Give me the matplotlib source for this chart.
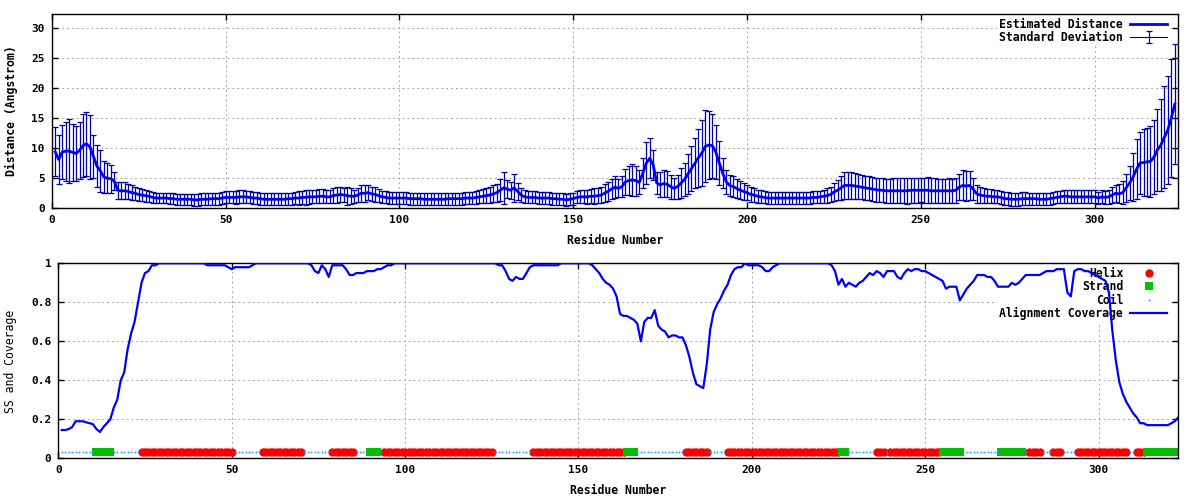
import numpy as np
import matplotlib
matplotlib.use("Agg")
import matplotlib.pyplot as plt
from matplotlib.ticker import MultipleLocator, FormatStrFormatter

# per-residue values (residues 1..323)
distance = [
    9.4, 8.1, 9.3, 9.5, 9.5, 9.3, 9.1, 9.6, 10.4, 10.7,
    10.2, 8.6, 7.0, 6.2, 5.2, 5.0, 4.9, 4.5, 3.0, 2.9,
    2.9, 2.8, 2.6, 2.5, 2.3, 2.2, 2.1, 2.0, 1.8, 1.7,
    1.7, 1.7, 1.7, 1.6, 1.6, 1.5, 1.5, 1.5, 1.5, 1.5,
    1.4, 1.4, 1.5, 1.5, 1.5, 1.6, 1.6, 1.6, 1.7, 1.8,
    1.8, 1.8, 1.8, 1.9, 1.9, 1.9, 1.8, 1.7, 1.7, 1.6,
    1.5, 1.5, 1.5, 1.5, 1.5, 1.5, 1.5, 1.6, 1.6, 1.7,
    1.7, 1.8, 1.8, 1.9, 1.9, 1.9, 2.0, 2.0, 1.9, 1.9,
    2.1, 2.2, 2.3, 2.2, 2.1, 2.0, 2.0, 2.2, 2.5, 2.5,
    2.6, 2.4, 2.3, 2.1, 1.9, 1.8, 1.7, 1.7, 1.7, 1.7,
    1.7, 1.7, 1.6, 1.6, 1.6, 1.6, 1.5, 1.5, 1.5, 1.5,
    1.5, 1.5, 1.5, 1.6, 1.6, 1.6, 1.6, 1.6, 1.7, 1.7,
    1.7, 1.8, 1.9, 2.0, 2.1, 2.2, 2.4, 2.6, 3.0, 3.4,
    3.2, 3.0, 3.4, 2.8, 2.2, 1.9, 1.8, 1.8, 1.8, 1.7,
    1.7, 1.7, 1.7, 1.6, 1.6, 1.5, 1.5, 1.4, 1.5, 1.6,
    1.8, 1.9, 1.9, 1.9, 2.0, 2.0, 2.1, 2.2, 2.5, 2.8,
    3.2, 3.5, 3.3, 3.6, 4.4, 4.6, 4.7, 4.6, 4.3, 5.8,
    7.5, 8.3, 7.2, 4.2, 3.9, 4.1, 4.0, 3.6, 3.3, 3.6,
    4.2, 4.8, 5.7, 6.6, 7.5, 8.4, 9.2, 10.3, 10.5, 10.4,
    9.3, 7.5, 5.8, 4.4, 3.8, 3.6, 3.3, 3.0, 2.8, 2.6,
    2.3, 2.2, 2.0, 1.9, 1.8, 1.7, 1.7, 1.7, 1.7, 1.7,
    1.7, 1.7, 1.7, 1.7, 1.7, 1.7, 1.7, 1.7, 1.8, 1.8,
    1.9, 2.0, 2.1, 2.3, 2.7, 3.0, 3.4, 3.8, 3.8, 3.8,
    3.7, 3.6, 3.5, 3.4, 3.3, 3.2, 3.1, 3.0, 3.0, 2.9,
    2.9, 2.9, 2.9, 2.9, 2.9, 2.9, 3.0, 3.0, 3.0, 3.0,
    3.0, 3.0, 2.9, 2.9, 2.9, 2.9, 2.9, 2.9, 2.9, 3.0,
    3.5, 3.8, 3.7, 3.8, 3.2, 2.4, 2.2, 2.1, 2.0, 2.0,
    1.9, 1.9, 1.8, 1.6, 1.6, 1.5, 1.5, 1.5, 1.6, 1.6,
    1.6, 1.6, 1.6, 1.5, 1.5, 1.5, 1.6, 1.7, 1.8, 1.9,
    2.0, 2.0, 1.9, 1.9, 1.9, 1.9, 1.9, 1.9, 1.9, 1.9,
    1.7, 1.9, 1.8, 1.9, 2.2, 2.5, 2.4, 2.6, 3.4, 4.2,
    5.2, 6.5, 7.5, 7.6, 7.7, 7.8, 8.5, 9.7, 10.5, 11.8,
    13.0, 15.0, 17.3,
]

std_dev = [
    4.1, 4.1, 4.5, 4.9, 5.3, 4.7, 4.6, 4.7, 5.2, 5.3,
    5.3, 3.6, 3.5, 3.5, 2.6, 2.5, 2.3, 1.5, 1.4, 1.4,
    1.4, 1.3, 1.2, 1.1, 1.1, 1.0, 1.0, 0.9, 0.9, 0.9,
    0.9, 0.9, 0.9, 0.9, 0.9, 0.9, 0.9, 0.9, 0.9, 0.9,
    1.0, 1.0, 1.0, 1.0, 1.0, 1.0, 1.0, 1.0, 1.0, 1.0,
    1.0, 1.0, 1.1, 1.1, 1.1, 1.0, 1.0, 1.0, 1.0, 1.0,
    1.0, 1.0, 1.0, 1.0, 1.0, 1.0, 1.0, 1.0, 1.0, 1.0,
    1.1, 1.1, 1.2, 1.2, 1.1, 1.1, 1.2, 1.2, 1.1, 1.1,
    1.2, 1.3, 1.2, 1.1, 1.5, 1.3, 1.1, 1.2, 1.4, 1.4,
    1.3, 1.2, 1.2, 1.1, 1.0, 1.0, 1.0, 1.0, 1.0, 1.0,
    1.0, 1.0, 1.0, 1.0, 1.0, 1.0, 1.0, 1.0, 1.0, 1.0,
    1.0, 1.0, 1.0, 1.0, 1.0, 1.0, 1.0, 1.0, 1.0, 1.0,
    1.0, 1.1, 1.1, 1.2, 1.2, 1.3, 1.4, 1.5, 1.8, 2.7,
    1.5, 1.4, 2.3, 1.4, 1.2, 1.1, 1.0, 1.0, 1.0, 1.0,
    1.0, 1.0, 1.0, 1.0, 1.0, 1.0, 1.0, 1.0, 1.0, 1.0,
    1.0, 1.1, 1.1, 1.2, 1.2, 1.3, 1.3, 1.4, 1.5, 1.6,
    1.7, 1.8, 1.5, 1.7, 2.2, 2.4, 2.6, 2.5, 2.0, 2.5,
    3.5, 3.3, 2.5, 1.9, 2.1, 2.3, 2.2, 2.0, 1.8, 2.0,
    2.5, 2.8, 3.3, 3.8, 4.2, 4.8, 5.5, 6.0, 5.6, 5.3,
    4.5, 3.7, 2.5, 2.0, 1.8, 1.8, 1.6, 1.5, 1.4, 1.3,
    1.2, 1.2, 1.1, 1.1, 1.0, 1.0, 1.0, 1.0, 1.0, 1.0,
    1.0, 1.0, 1.0, 1.0, 1.0, 1.0, 1.0, 1.0, 1.0, 1.0,
    1.0, 1.1, 1.2, 1.3, 1.5, 1.7, 2.0, 2.2, 2.3, 2.2,
    2.1, 2.1, 2.0, 2.0, 2.0, 2.0, 2.0, 2.0, 2.0, 2.0,
    2.0, 2.1, 2.1, 2.1, 2.1, 2.2, 2.1, 2.1, 2.1, 2.0,
    2.1, 2.2, 2.1, 2.1, 2.0, 2.0, 2.0, 2.1, 2.0, 2.1,
    2.2, 2.5, 2.5, 2.4, 1.9, 1.5, 1.4, 1.3, 1.2, 1.2,
    1.1, 1.1, 1.1, 1.1, 1.1, 1.1, 1.1, 1.1, 1.1, 1.1,
    1.0, 1.0, 1.0, 1.0, 1.0, 1.0, 1.0, 1.0, 1.0, 1.0,
    1.1, 1.1, 1.1, 1.1, 1.1, 1.1, 1.1, 1.1, 1.1, 1.1,
    1.0, 1.1, 1.1, 1.2, 1.3, 1.4, 1.6, 1.9, 2.3, 2.8,
    4.0, 5.0, 5.2, 5.5, 5.7, 5.9, 6.2, 6.8, 7.6, 8.5,
    9.0, 9.8, 9.9,
]

coverage = [
    0.145, 0.145, 0.15, 0.16, 0.19, 0.19, 0.19, 0.185, 0.18, 0.175,
    0.15, 0.135, 0.16, 0.18, 0.20, 0.26, 0.30, 0.40, 0.44, 0.56,
    0.64, 0.70, 0.80, 0.90, 0.95, 0.96, 0.99, 0.99, 1.0, 1.0,
    1.0, 1.0, 1.0, 1.0, 1.0, 1.0, 1.0, 1.0, 1.0, 1.0,
    1.0, 1.0, 0.99, 0.99, 0.99, 0.99, 0.99, 0.99, 0.98, 0.97,
    0.98, 0.98, 0.98, 0.98, 0.98, 0.99, 1.0, 1.0, 1.0, 1.0,
    1.0, 1.0, 1.0, 1.0, 1.0, 1.0, 1.0, 1.0, 1.0, 1.0,
    1.0, 1.0, 0.99, 0.96, 0.95, 0.99, 0.97, 0.93, 0.99, 0.99,
    0.99, 0.99, 0.97, 0.94, 0.94, 0.95, 0.95, 0.95, 0.96, 0.96,
    0.96, 0.97, 0.97, 0.98, 0.99, 0.99, 1.0, 1.0, 1.0, 1.0,
    1.0, 1.0, 1.0, 1.0, 1.0, 1.0, 1.0, 1.0, 1.0, 1.0,
    1.0, 1.0, 1.0, 1.0, 1.0, 1.0, 1.0, 1.0, 1.0, 1.0,
    1.0, 1.0, 1.0, 1.0, 1.0, 1.0, 0.99, 0.99, 0.96, 0.92,
    0.91, 0.93, 0.92, 0.92, 0.95, 0.98, 0.99, 0.99, 0.99, 0.99,
    0.99, 0.99, 0.99, 0.99, 1.0, 1.0, 1.0, 1.0, 1.0, 1.0,
    1.0, 1.0, 1.0, 0.99, 0.97, 0.95, 0.92, 0.90, 0.89, 0.87,
    0.83, 0.74, 0.73, 0.73, 0.72, 0.71, 0.69, 0.60, 0.70, 0.72,
    0.72, 0.76, 0.68, 0.66, 0.65, 0.62, 0.63, 0.63, 0.62, 0.62,
    0.58, 0.52, 0.44, 0.38, 0.37, 0.36, 0.48, 0.66, 0.75, 0.79,
    0.82, 0.86, 0.89, 0.94, 0.97, 0.98, 0.98, 1.0, 0.99, 0.99,
    0.99, 0.99, 0.98, 0.96, 0.96, 0.98, 0.99, 1.0, 1.0, 1.0,
    1.0, 1.0, 1.0, 1.0, 1.0, 1.0, 1.0, 1.0, 1.0, 1.0,
    1.0, 1.0, 0.99, 0.96, 0.89, 0.92, 0.88, 0.90, 0.89, 0.88,
    0.90, 0.91, 0.93, 0.95, 0.94, 0.96, 0.95, 0.93, 0.96, 0.96,
    0.96, 0.93, 0.92, 0.95, 0.97, 0.96, 0.97, 0.97, 0.96, 0.96,
    0.95, 0.94, 0.93, 0.92, 0.91, 0.87, 0.88, 0.88, 0.88, 0.81,
    0.84, 0.87, 0.89, 0.91, 0.94, 0.94, 0.94, 0.93, 0.93, 0.91,
    0.88, 0.88, 0.88, 0.88, 0.90, 0.89, 0.90, 0.92, 0.94, 0.94,
    0.94, 0.94, 0.94, 0.95, 0.96, 0.96, 0.96, 0.97, 0.97, 0.97,
    0.85, 0.83, 0.96, 0.97, 0.97, 0.96, 0.96, 0.95, 0.94, 0.93,
    0.92, 0.91, 0.85, 0.65, 0.50, 0.39, 0.33, 0.29, 0.26, 0.23,
    0.21, 0.18, 0.18, 0.17, 0.17, 0.17, 0.17, 0.17, 0.17, 0.17,
    0.18, 0.19, 0.21,
]

helix_segments = [(24, 50), (59, 70), (79, 85), (94, 125), (137, 163), (181, 187),
                  (193, 225), (236, 238), (240, 254), (280, 283), (287, 289),
                  (294, 308), (311, 313)]
strand_segments = [(11, 15), (90, 92), (164, 166), (226, 227), (255, 260),
                   (272, 278), (314, 322)]
ss_level = 0.03

residues = np.arange(1, len(distance) + 1)
helix = [r for a, b in helix_segments for r in range(a, b + 1)]
strand = [r for a, b in strand_segments for r in range(a, b + 1)]
coil = [r for r in residues if r not in helix and r not in strand]

mono = "DejaVu Sans Mono"
plt.rcParams["font.family"] = mono
plt.rcParams["font.size"] = 8

fig = plt.figure(figsize=(12, 5), dpi=100)
W, H = 1200.0, 500.0


def axes_px(left, top, right, bottom):
    return fig.add_axes([left / W, 1 - bottom / H, (right - left) / W, (bottom - top) / H])


def style(ax):
    ax.set_axisbelow(True)
    ax.grid(True, color="#a8a8a8", linestyle=(0, (2, 3)), linewidth=0.7)
    ax.tick_params(direction="in", top=True, right=True, length=4, width=1, pad=5)
    for lab in ax.get_xticklabels() + ax.get_yticklabels():
        lab.set_fontweight("bold")
    for s in ax.spines.values():
        s.set_linewidth(1)


# top panel
ax1 = axes_px(51.7, 14.3, 1178.3, 208.3)
err = ax1.errorbar(residues, distance, yerr=std_dev, fmt="-", color="#0000a0", lw=0.8,
                   elinewidth=0.9, capsize=2.5, capthick=0.9, zorder=2)
line, = ax1.plot(residues, distance, color="#0000ff", lw=2, zorder=3)
ax1.set_xlim(0, 324)
ax1.set_ylim(0, 32.2)
ax1.xaxis.set_major_locator(MultipleLocator(50))
ax1.yaxis.set_major_locator(MultipleLocator(5))
style(ax1)
leg1 = ax1.legend([line, err], ["Estimated Distance", "Standard Deviation"],
                  loc="upper right", bbox_to_anchor=(0.992, 0.995),
                  markerfirst=False, frameon=True, framealpha=1, edgecolor="none",
                  fancybox=False, borderpad=0.2, labelspacing=0.05, handlelength=3.2,
                  handletextpad=0.6, borderaxespad=0,
                  prop={"family": mono, "weight": "bold", "size": 8.3})
leg1.set_zorder(1.5)

# bottom panel
ax2 = axes_px(58.3, 263.3, 1178.3, 458.3)
ax2.plot(helix, [ss_level] * len(helix), linestyle="none", marker="o", ms=6, mew=0,
         color="#ff0000", label="Helix", zorder=2)
ax2.plot(strand, [ss_level] * len(strand), linestyle="none", marker="s", ms=5.2, mew=0,
         color="#00c000", label="Strand", zorder=2)
ax2.plot(coil, [ss_level] * len(coil), linestyle="none", marker="s", ms=1.2, mew=0,
         color="#1e90ff", label="Coil", zorder=2)
ax2.plot(residues, coverage, color="#0000ff", lw=1.6,
         label="Alignment Coverage", zorder=3)
ax2.set_xlim(0, 323)
ax2.set_ylim(0, 1)
ax2.xaxis.set_major_locator(MultipleLocator(50))
ax2.yaxis.set_major_locator(MultipleLocator(0.2))
ax2.yaxis.set_major_formatter(FormatStrFormatter("%g"))
style(ax2)
leg2 = ax2.legend(loc="upper right", bbox_to_anchor=(0.992, 0.995), markerfirst=False,
                  frameon=True, framealpha=1, edgecolor="none", fancybox=False,
                  borderpad=0.2, labelspacing=0.05, handlelength=3.2, handletextpad=0.6,
                  borderaxespad=0, numpoints=1,
                  prop={"family": mono, "weight": "bold", "size": 8.3})
leg2.set_zorder(1.5)

# axis titles
fig.text(615 / W, 1 - 240.7 / H, "Residue Number", ha="center", va="center",
         fontweight="bold", fontsize=8.3)
fig.text(618 / W, 1 - 490.7 / H, "Residue Number", ha="center", va="center",
         fontweight="bold", fontsize=8.3)
fig.text(11 / W, 1 - 111 / H, "Distance (Angstrom)", ha="center", va="center",
         rotation=90, fontweight="bold", fontsize=8.3)
fig.text(11 / W, 1 - 361 / H, "SS and Coverage", ha="center", va="center",
         rotation=90, fontsize=8.3)

fig.savefig("out.png", dpi=100)
